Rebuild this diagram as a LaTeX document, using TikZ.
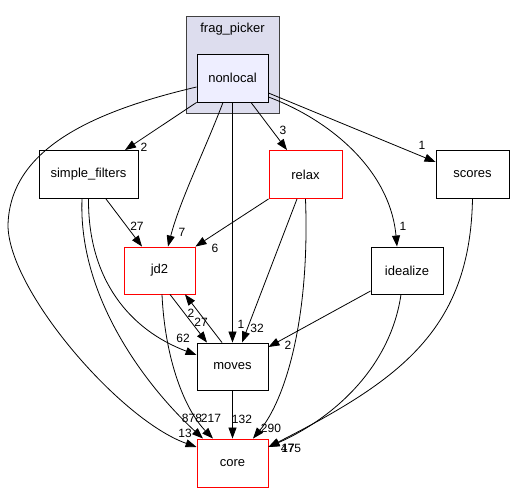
\documentclass[tikz,border=0pt]{standalone}
\usepackage{fontspec}
\setmainfont{Liberation Sans}
\usetikzlibrary{arrows.meta}

\definecolor{clusterfill}{HTML}{DDDDEE}
\definecolor{mainfill}{HTML}{EEEEFF}
\tikzset{
  dirbox/.style={draw=black, line width=0.9pt, inner sep=0pt, minimum height=48pt,
    font=\fontsize{13}{15}\selectfont},
  reddir/.style={dirbox, draw=red},
  dep/.style={-{Triangle[length=11pt,width=8pt]}, line width=0.8pt},
  cnt/.style={inner sep=0pt, font=\fontsize{12}{14}\selectfont}
}

\begin{document}
\begin{tikzpicture}[x=1pt, y=-1pt]
  \useasboundingbox (0,0) rectangle (514,492);

  % ***************** CLUSTER *****************
  \node[draw=black!75, line width=0.9pt, fill=clusterfill, minimum width=93pt, minimum height=97pt, inner sep=0pt] (frag) at (232.5,64.5) {};
  \node[cnt, font=\fontsize{13}{15}\selectfont] (fraglabel) at (232.5,29) {frag\_picker};
  \node[dirbox, fill=mainfill, minimum width=71pt] (nonlocal) at (232.5,78) {nonlocal};

  % ***************** DIRECTORIES *****************
  \node[dirbox, minimum width=99pt] (simplefilters) at (88.5,174.5) {simple\_filters};
  \node[reddir, minimum width=73pt] (relax) at (305.5,174.5) {relax};
  \node[dirbox, minimum width=73pt] (scores) at (472.5,174.5) {scores};
  \node[reddir, minimum width=71pt, minimum height=47pt] (jd2) at (159.5,270.5) {jd2};
  \node[dirbox, minimum width=72pt, minimum height=47pt] (idealize) at (407,270.5) {idealize};
  \node[dirbox, minimum width=71pt, minimum height=47pt] (moves) at (232.5,366.5) {moves};
  \node[reddir, minimum width=71pt] (core) at (232.5,463) {core};

  % ***************** FROM NONLOCAL *****************
  \draw[dep] ([yshift=-9pt]nonlocal.west) .. controls (90,112) and (10,150) .. (8,225)
    .. controls (8,290) and (120,420) .. ([yshift=16pt]core.west);
  \draw[dep] (nonlocal.south west) -- ([xshift=36.5pt]simplefilters.north);
  \draw[dep] ([xshift=-9.5pt]nonlocal.south) .. controls (205,150) and (180,200) .. ([xshift=8.5pt]jd2.north);
  \draw[dep] (nonlocal.south) -- (moves.north);
  \draw[dep] ([xshift=18.5pt]nonlocal.south) -- ([xshift=-18.5pt]relax.north);
  \draw[dep] ([yshift=-19pt]nonlocal.east) .. controls (330,120) and (390,170) .. ([xshift=-10pt]idealize.north);
  \draw[dep] ([yshift=-15pt]nonlocal.east) -- ([yshift=12.5pt]scores.west);

  % ***************** OTHER DEPENDENCIES *****************
  \draw[dep] ([xshift=17.5pt]simplefilters.south) -- ([xshift=-17.5pt]jd2.north);
  \draw[dep] (simplefilters.south) .. controls (88,280) and (130,330) .. ([yshift=11.5pt]moves.west);
  \draw[dep] ([xshift=-6.5pt]simplefilters.south) .. controls (78,300) and (150,390) .. ([xshift=-29.5pt]core.north);
  \draw[dep] (relax.south west) -- (jd2.north east);
  \draw[dep] ([xshift=-8.5pt]relax.south) -- ([xshift=9.5pt]moves.north);
  \draw[dep] (relax.south) .. controls (310,320) and (285,400) .. ([xshift=20.5pt]core.north);
  \draw[dep] (scores.south) .. controls (470,330) and (400,380) .. ([yshift=16pt]core.east);
  \draw[dep] ([yshift=-20.5pt]idealize.west) -- ([yshift=19.5pt]moves.east);
  \draw[dep] ([xshift=-6pt]idealize.south) .. controls (390,370) and (330,420) .. ([yshift=16pt]core.east);
  \draw[dep] ([xshift=10.5pt]jd2.south) -- ([xshift=-25.5pt]moves.north);
  \draw[dep] ([xshift=-10.5pt]moves.north) -- ([xshift=25.5pt]jd2.south);
  \draw[dep] ([xshift=2.5pt]jd2.south) .. controls (165,360) and (185,410) .. ([xshift=-19.5pt]core.north);
  \draw[dep] (moves.south) -- (core.north);

  % ***************** COUNTS *****************
  \node[cnt] (c13) at (185,433) {13};
  \node[cnt] (c2a) at (144,147) {2};
  \node[cnt] (c7) at (182,232) {7};
  \node[cnt] (c1a) at (241,324) {1};
  \node[cnt] (c3) at (283,130) {3};
  \node[cnt] (c1b) at (403,226) {1};
  \node[cnt] (c1c) at (422,145) {1};
  \node[cnt] (c27a) at (137,226) {27};
  \node[cnt] (c62) at (183,338) {62};
  \node[cnt] (c878) at (192,418) {878};
  \node[cnt] (c6) at (215,248) {6};
  \node[cnt] (c32) at (257,328) {32};
  \node[cnt] (c290) at (271,428) {290};
  \node[cnt] (c475) at (291,448) {475};
  \node[cnt] (c17) at (288,448) {17};
  \node[cnt] (c2b) at (288,345) {2};
  \node[cnt] (c27b) at (201,322) {27};
  \node[cnt] (c2c) at (191,313) {2};
  \node[cnt] (c217) at (211,418) {217};
  \node[cnt] (c132) at (242,419) {132};
\end{tikzpicture}
\end{document}
